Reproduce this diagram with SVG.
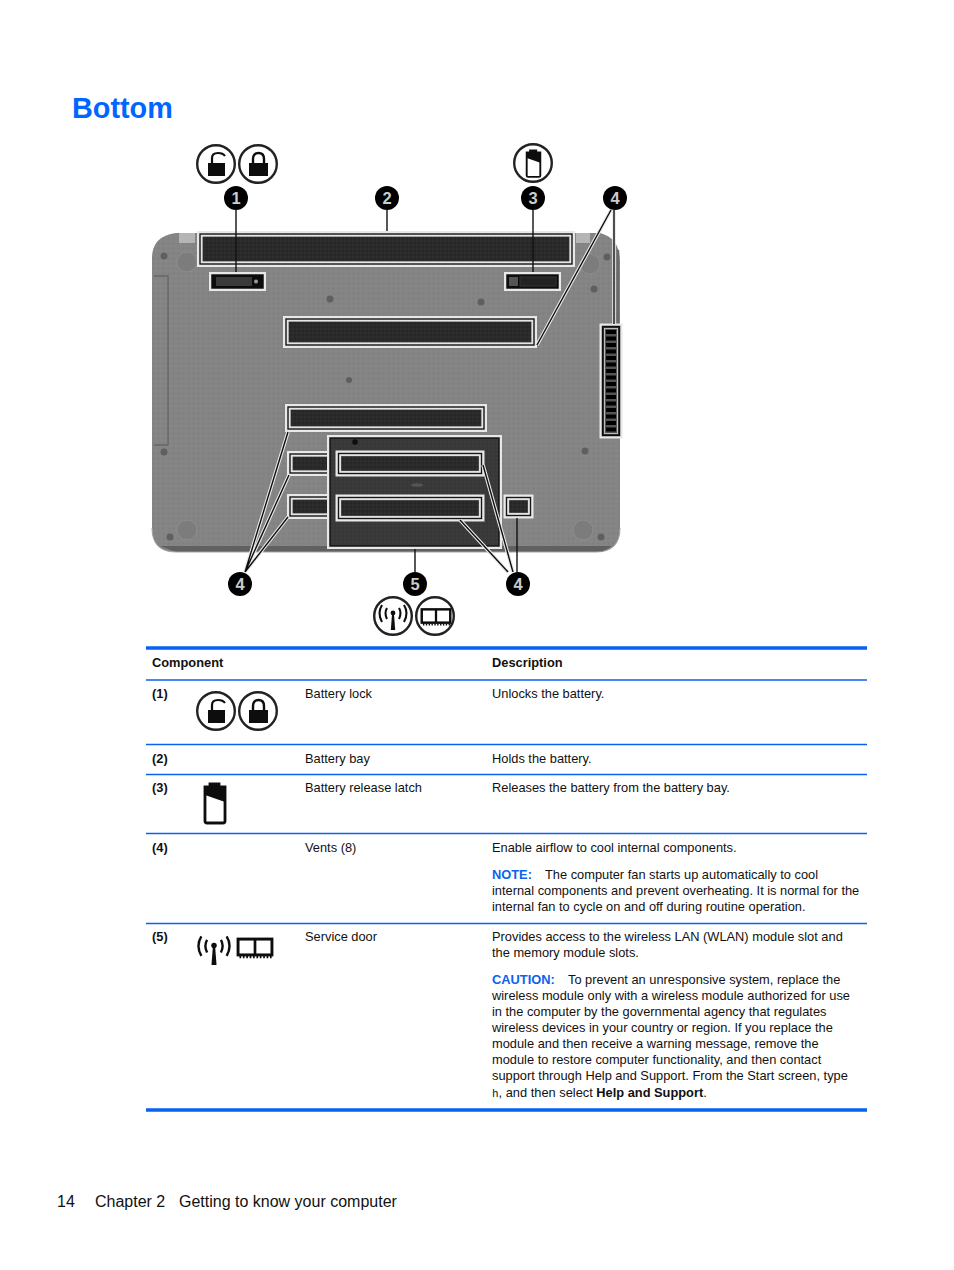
<svg xmlns="http://www.w3.org/2000/svg" width="954" height="1270" viewBox="0 0 954 1270">
<style>
text{font-family:"Liberation Sans",Arial,sans-serif;font-size:12.84px;fill:#111}
.b{font-weight:bold}
.blue{fill:#0a62f0;font-weight:bold}
.rule{stroke:#0a62f0;stroke-width:1.3}
.thick{stroke:#0a62f0;stroke-width:3.4}
.vent{fill:url(#mesh);stroke:#e2e2e2;stroke-width:1.3}
.halo{fill:none;stroke:#e8e8e8;stroke-width:6}
.line{fill:none;stroke:#151515;stroke-width:1.4}
.leader{stroke:#111;stroke-width:1.4;fill:none}
.lhalo{stroke:#e8e8e8;stroke-width:3.6;fill:none}
.num{fill:#000}
.digit{font-size:16.5px;font-weight:bold;fill:#ccc;text-anchor:middle}
.ring{fill:#fff;stroke:#222;stroke-width:2.4}
.screw{fill:#5f5f5f}
.foot{fill:#7c7c7c;stroke:#8e8e8e}
</style>
<defs>
<filter id="soft" x="-5%" y="-5%" width="110%" height="110%"><feGaussianBlur stdDeviation="0.5"/></filter>
<pattern id="grain" width="5" height="5" patternUnits="userSpaceOnUse"><rect width="5" height="5" fill="#848484"/><circle cx="1" cy="1" r="0.7" fill="#8d8d8d"/><circle cx="3.500" cy="3.500" r="0.7" fill="#7c7c7c"/></pattern>
<pattern id="mesh" width="4" height="4" patternUnits="userSpaceOnUse"><rect width="4" height="4" fill="#292929"/><circle cx="1" cy="1" r="0.8" fill="#333"/><circle cx="3" cy="3" r="0.7" fill="#202020"/></pattern>
<pattern id="doorfill" width="4" height="4" patternUnits="userSpaceOnUse"><rect width="4" height="4" fill="#373737"/><circle cx="1" cy="2" r="0.8" fill="#424242"/></pattern>
<g id="lock-open"><rect x="-8" y="-1" width="17" height="13" fill="#111"/><path d="M-4,-1V-6Q-4,-11 2,-11Q7,-11 9,-8" fill="none" stroke="#111" stroke-width="2.2"/></g>
<g id="lock-closed"><rect x="-9" y="-1" width="19" height="13" fill="#111"/><path d="M-5,-1V-5Q-5,-11 .5,-11Q6,-11 6,-5V-1" fill="none" stroke="#111" stroke-width="2.4"/></g>
<g id="batt"><path d="M-10,-17H-5V-20H4V-17H10V17Q10,19 8,19H-8Q-10,19 -10,17Z" fill="#fff" stroke="#111" stroke-width="2.8"/><path d="M-10,-17H-5V-20H4V-17H10V-2L-10,-9Z" fill="#111"/></g>
<g id="wifi" fill="none" stroke="#111"><circle cx="0" cy="-3" r="2.4" fill="#111" stroke="none"/><path d="M-1,-2L-2.200,14H2.200L1,-2Z" fill="#111" stroke="none"/><path d="M-6,-8Q-9,-3 -6,3M-11,-11Q-16,-3 -11,6M6,-8Q9,-3 6,3M11,-11Q16,-3 11,6" stroke-width="2.1"/></g>
<g id="mem" fill="none" stroke="#111"><rect x="-15" y="-7" width="30" height="14" fill="#fff" stroke-width="2.6"/><path d="M0,-7V7" stroke-width="2.4"/><path d="M-13,7V10M-10,7V10M-7,7V10M-4,7V10M-1,7V10M2,7V10M5,7V10M8,7V10M11,7V10M14,7V10" stroke-width="1.5"/></g>
</defs>
<rect width="954" height="1270" fill="#fff"/>
<text x="72" y="118" style="font-size:28.8px;font-weight:bold;fill:#0066ff">Bottom</text>

<g id="laptop" filter="url(#soft)">
<path d="M152,258Q152,236 176,233H600Q620,238 620,262V528Q620,552 596,552H176Q152,552 152,528Z" fill="url(#grain)"/>
<path d="M160,546H612L602,552H176Z" fill="#606060"/>
<path d="M152,528Q152,552 176,552H596Q620,552 620,528" fill="none" stroke="#a3a3a3" stroke-width="1"/>
<path d="M618,250V330" stroke="#6a6a6a" stroke-width="2.5"/>
<rect x="179" y="233" width="16" height="10" fill="#b5b5b5"/>
<rect x="576" y="233" width="14" height="10" fill="#b5b5b5"/>
<path d="M154,276H168V445H154" fill="none" stroke="#666" stroke-width="1.4"/>
<circle class="foot" cx="187" cy="262" r="10"/><circle class="foot" cx="590" cy="264" r="10"/><circle class="foot" cx="187" cy="530" r="10"/><circle class="foot" cx="583" cy="530" r="10"/>
<circle class="screw" cx="164" cy="256" r="3.5"/><circle class="screw" cx="330" cy="299" r="3.5"/><circle class="screw" cx="481" cy="302" r="3.5"/><circle class="screw" cx="594" cy="289" r="3.5"/><circle class="screw" cx="607" cy="257" r="3.5"/><circle class="screw" cx="349" cy="380" r="3"/><circle class="screw" cx="164" cy="452" r="3.5"/><circle class="screw" cx="585" cy="451" r="3.5"/><circle class="screw" cx="601" cy="537" r="3.5"/><circle class="screw" cx="170" cy="537" r="3.5"/>
</g>

<g id="vents" filter="url(#soft)">
<g id="battery-bay"><rect class="halo" x="200" y="234" width="372" height="30"/><rect class="line" x="200" y="234" width="372" height="30"/><rect class="vent" x="202" y="236" width="368" height="26"/></g>
<g id="battery-lock"><rect class="halo" x="212" y="275" width="51" height="13"/><rect x="212" y="275" width="51" height="13" fill="#111" stroke="#111" stroke-width="1.500"/><rect x="216" y="277" width="36" height="9" fill="#3a3a3a"/><circle cx="256" cy="281.500" r="2" fill="#999"/></g>
<g id="battery-latch"><rect class="halo" x="507" y="275" width="51" height="13"/><rect x="507" y="275" width="51" height="13" fill="#111" stroke="#111" stroke-width="1.500"/><rect x="509" y="277" width="9" height="9" fill="#555"/><rect x="520" y="277" width="36" height="9" fill="#222" stroke="#333"/></g>
<g id="vent-center"><rect class="halo" x="286" y="319" width="248" height="26"/><rect class="line" x="286" y="319" width="248" height="26"/><rect class="vent" x="288" y="321" width="244" height="22"/></g>
<g id="vent-right"><rect class="halo" x="602.500" y="326.500" width="17" height="109"/><rect x="602.500" y="326.500" width="17" height="109" fill="#333" stroke="#111" stroke-width="1.500"/><rect x="604.500" y="328.500" width="13" height="105" fill="#555" stroke="#bbb"/><path d="M606,332H616M606,338.500H616M606,345H616M606,351.500H616M606,358H616M606,364.500H616M606,371H616M606,377.500H616M606,384H616M606,390.500H616M606,397H616M606,403.500H616M606,410H616M606,416.500H616M606,423H616M606,429.500H616" stroke="#000" stroke-width="4"/></g>
<g id="vent-upper"><rect class="halo" x="288" y="407" width="196" height="22"/><rect class="line" x="288" y="407" width="196" height="22"/><rect class="vent" x="290" y="409" width="192" height="18"/></g>
<g id="vent-left-a"><rect class="halo" x="290" y="454" width="38" height="19"/><rect class="line" x="290" y="454" width="38" height="19"/><rect class="vent" x="292" y="456" width="36" height="15"/></g>
<g id="vent-left-b"><rect class="halo" x="290" y="497" width="38" height="19"/><rect class="line" x="290" y="497" width="38" height="19"/><rect class="vent" x="292" y="499" width="36" height="15"/></g>
<g id="service-door"><rect class="halo" x="330" y="438" width="169" height="108"/><rect x="330" y="438" width="169" height="108" fill="url(#doorfill)" stroke="#151515" stroke-width="1.500"/><circle cx="355" cy="442" r="2.800" fill="#111"/><ellipse cx="417" cy="485" rx="6" ry="1.800" fill="#555"/></g>
<g id="vent-door-a"><rect class="halo" x="338.500" y="453.500" width="143" height="20"/><rect class="line" x="338.500" y="453.500" width="143" height="20"/><rect class="vent" x="340.500" y="455.500" width="139" height="16"/></g>
<g id="vent-door-b"><rect class="halo" x="338.500" y="497.500" width="143" height="21"/><rect class="line" x="338.500" y="497.500" width="143" height="21"/><rect class="vent" x="340.500" y="499.500" width="139" height="17"/></g>
<g id="vent-small"><rect class="halo" x="506.500" y="497.500" width="24" height="18"/><rect class="line" x="506.500" y="497.500" width="24" height="18"/><rect class="vent" x="508.500" y="499.500" width="20" height="14"/></g>
</g>

<g id="connectors" filter="url(#soft)">
<path class="lhalo" d="M611,210L537,345M614,210V324M245,572L288,432M245,572L289,475M245,572L288,517M513,572L483,465M508,572L460,520"/>
<path class="leader" d="M236,210V272M387,210V231M533,210V272M611,210L537,345M614,210V324M245,572L288,432M245,572L289,475M245,572L288,517M513,572L483,465M508,572L460,520M517,572V518M415,549V572"/>
</g>

<g id="callout-1"><circle class="num" cx="236" cy="198" r="12"/><text class="digit" x="236" y="204">1</text></g>
<g id="callout-2"><circle class="num" cx="387" cy="198" r="12"/><text class="digit" x="387" y="204">2</text></g>
<g id="callout-3"><circle class="num" cx="533" cy="198" r="12"/><text class="digit" x="533" y="204">3</text></g>
<g id="callout-4a"><circle class="num" cx="615" cy="198" r="12"/><text class="digit" x="615" y="204">4</text></g>
<g id="callout-4b"><circle class="num" cx="240" cy="584" r="12"/><text class="digit" x="240" y="590">4</text></g>
<g id="callout-5"><circle class="num" cx="415" cy="584" r="12"/><text class="digit" x="415" y="590">5</text></g>
<g id="callout-4c"><circle class="num" cx="518" cy="584" r="12"/><text class="digit" x="518" y="590">4</text></g>

<g id="icon-lock-open" filter="url(#soft)"><circle class="ring" cx="216" cy="164" r="18.800"/><use href="#lock-open" x="216" y="164"/></g>
<g id="icon-lock-closed" filter="url(#soft)"><circle class="ring" cx="258" cy="164" r="18.800"/><use href="#lock-closed" x="258" y="164"/></g>
<g id="icon-battery" filter="url(#soft)"><circle class="ring" cx="533" cy="163" r="18.800"/><use href="#batt" transform="translate(533.500,164) scale(.68)"/></g>
<g id="icon-wifi" filter="url(#soft)"><circle class="ring" cx="393" cy="616" r="18.800"/><use href="#wifi" transform="translate(393,616)"/></g>
<g id="icon-memory" filter="url(#soft)"><circle class="ring" cx="435" cy="616" r="18.800"/><use href="#mem" transform="translate(436,616) scale(.95)"/></g>

<g id="table">
<path class="thick" d="M146,648H867M146,1110H867"/>
<path class="rule" d="M146,680H867M146,744.500H867M146,774.500H867M146,833.500H867M146,923.500H867"/>
<text class="b" x="152" y="667">Component</text><text class="b" x="492" y="667">Description</text>
<text class="b" x="152" y="698">(1)</text><text x="305" y="698">Battery lock</text><text x="492" y="698">Unlocks the battery.</text>
<text class="b" x="152" y="763">(2)</text><text x="305" y="763">Battery bay</text><text x="492" y="763">Holds the battery.</text>
<text class="b" x="152" y="792">(3)</text><text x="305" y="792">Battery release latch</text><text x="492" y="792">Releases the battery from the battery bay.</text>
<text class="b" x="152" y="852">(4)</text><text x="305" y="852">Vents (8)</text><text x="492" y="852">Enable airflow to cool internal components.</text>
<text class="blue" x="492" y="879">NOTE:</text><text x="545" y="879">The computer fan starts up automatically to cool</text>
<text x="492" y="895">internal components and prevent overheating. It is normal for the</text>
<text x="492" y="911">internal fan to cycle on and off during routine operation.</text>
<text class="b" x="152" y="941">(5)</text><text x="305" y="941">Service door</text><text x="492" y="941">Provides access to the wireless LAN (WLAN) module slot and</text>
<text x="492" y="957">the memory module slots.</text>
<text class="blue" x="492" y="984">CAUTION:</text><text x="568" y="984">To prevent an unresponsive system, replace the</text>
<text x="492" y="1000">wireless module only with a wireless module authorized for use</text>
<text x="492" y="1016">in the computer by the governmental agency that regulates</text>
<text x="492" y="1032">wireless devices in your country or region. If you replace the</text>
<text x="492" y="1048">module and then receive a warning message, remove the</text>
<text x="492" y="1064">module to restore computer functionality, and then contact</text>
<text x="492" y="1080">support through Help and Support. From the Start screen, type</text>
<text x="492" y="1097"><tspan style="font-family:'Liberation Mono',monospace;font-size:11px">h</tspan>, and then select <tspan class="b">Help and Support</tspan>.</text>
<g filter="url(#soft)"><use href="#lock-open" x="216" y="711"/><circle cx="216" cy="711" r="18.800" fill="none" stroke="#222" stroke-width="2.400"/><use href="#lock-closed" x="258" y="711"/><circle cx="258" cy="711" r="18.800" fill="none" stroke="#222" stroke-width="2.400"/><use href="#batt" x="215" y="804"/><use href="#wifi" transform="translate(214,949) scale(1.150)"/><use href="#mem" transform="translate(255,947) scale(1.130)"/></g>
</g>

<text x="57" y="1207" style="font-size:16px">14</text>
<text x="95" y="1207" style="font-size:16px">Chapter 2</text>
<text x="179" y="1207" style="font-size:16px">Getting to know your computer</text>
</svg>
